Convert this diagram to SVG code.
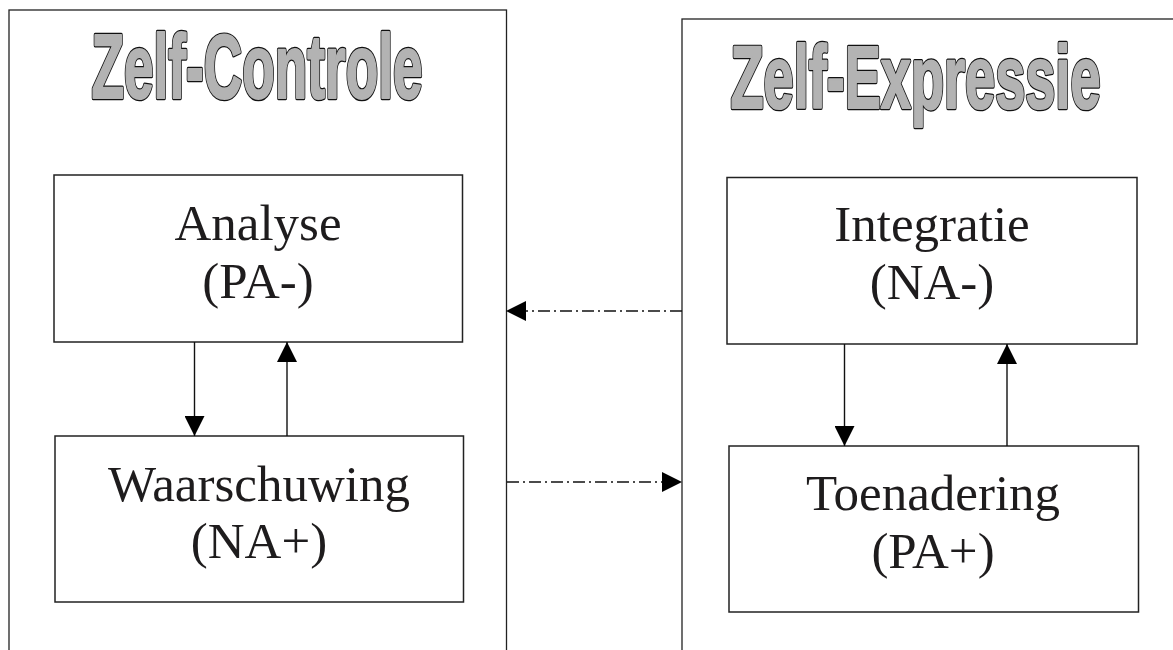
<svg xmlns="http://www.w3.org/2000/svg" xmlns:xlink="http://www.w3.org/1999/xlink" width="1173" height="650" viewBox="0 0 1173 650">
  <defs>
    <marker id="ah" markerUnits="userSpaceOnUse" markerWidth="20" markerHeight="20" viewBox="0 0 20 20" refX="20" refY="10" orient="auto">
      <path d="M0,0 L20,10 L0,20 Z" fill="#000"/>
    </marker>
  </defs>
  <style>
    .outer { fill: none; stroke: #222; stroke-width: 1.3; }
    .box { fill: #fff; stroke: #222; stroke-width: 1.5; }
    .title { font-family: "Liberation Sans Narrow", "Liberation Sans", Arial, sans-serif; font-weight: bold; text-anchor: middle; stroke-linejoin: round; }
    .title-back { fill: #111; stroke: #111; stroke-width: 4.6; stroke-linejoin: round; }
    .title-front { fill: #b3b3b3; stroke: #b3b3b3; stroke-width: 2.2; stroke-linejoin: round; }
    .lbl { font-family: "Liberation Serif", "Times New Roman", serif; font-size: 51px; fill: #1e1c1d; text-anchor: middle; }
    .arr { fill: none; stroke: #111; stroke-width: 1.4; marker-end: url(#ah); }
    .dash { fill: none; stroke: #111; stroke-width: 1.4; stroke-dasharray: 12 4 2 4; marker-end: url(#ah); }
  </style>
  <rect width="1173" height="650" fill="#fff"/>

  <g id="zelf-controle">
    <rect class="outer" x="9" y="10" width="497.5" height="660"/>
    <use xlink:href="#t1" href="#t1" class="title-back"/>
    <g class="title-front">
      <text id="t1" class="title" x="257" y="98" font-size="90" textLength="331" lengthAdjust="spacingAndGlyphs">Zelf-Controle</text>
    </g>
  </g>
  <g id="zelf-expressie">
    <rect class="outer" x="682" y="19" width="520" height="660"/>
    <use xlink:href="#t2" href="#t2" class="title-back"/>
    <g class="title-front">
      <text id="t2" class="title" x="915.5" y="108" font-size="89" textLength="370" lengthAdjust="spacingAndGlyphs">Zelf-Expressie</text>
    </g>
  </g>

  <g id="analyse">
    <rect class="box" x="54" y="175" width="408.5" height="167"/>
    <text class="lbl" x="258" y="240">Analyse</text>
    <text class="lbl" x="258" y="298">(PA-)</text>
  </g>
  <g id="waarschuwing">
    <rect class="box" x="55" y="436" width="408.5" height="166"/>
    <text class="lbl" x="259" y="501">Waarschuwing</text>
    <text class="lbl" x="259" y="558">(NA+)</text>
  </g>
  <g id="integratie">
    <rect class="box" x="727" y="177.5" width="410" height="166.5"/>
    <text class="lbl" x="932" y="241">Integratie</text>
    <text class="lbl" x="932" y="299">(NA-)</text>
  </g>
  <g id="toenadering">
    <rect class="box" x="729" y="446" width="409.5" height="166"/>
    <text class="lbl" x="933" y="510">Toenadering</text>
    <text class="lbl" x="933" y="568">(PA+)</text>
  </g>

  <g id="connectors">
    <line class="arr" x1="194.5" y1="342" x2="194.5" y2="436"/>
    <line class="arr" x1="287" y1="436" x2="287" y2="342"/>
    <line class="arr" x1="844.5" y1="344" x2="844.5" y2="446"/>
    <line class="arr" x1="1007" y1="446" x2="1007" y2="344"/>
    <line class="dash" x1="682" y1="311" x2="506" y2="311"/>
    <line class="dash" x1="507" y1="482" x2="682" y2="482"/>
  </g>
</svg>
